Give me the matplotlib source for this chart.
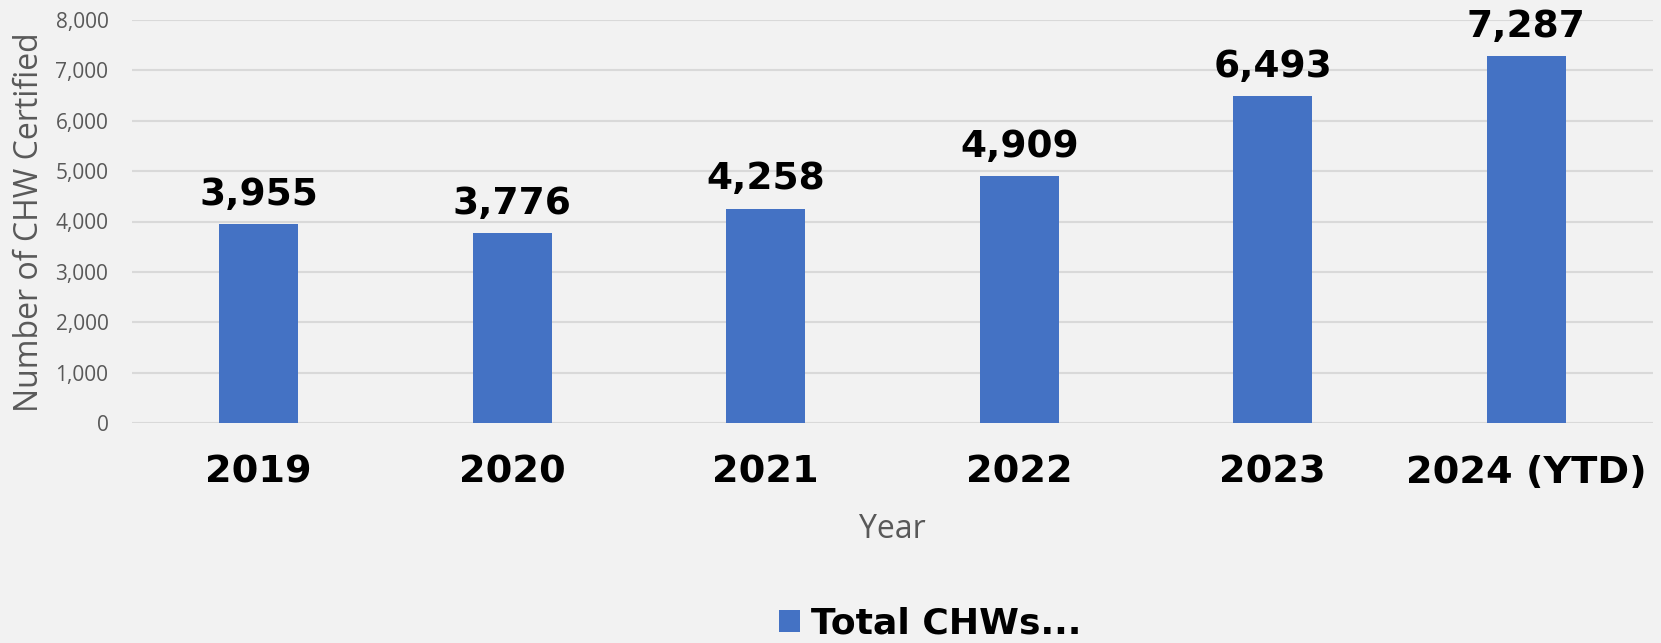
import matplotlib.pyplot as plt
from matplotlib.ticker import FuncFormatter

# chart data
years = ["2019", "2020", "2021", "2022", "2023", "2024 (YTD)"]
chw_certified = [3955, 3776, 4258, 4909, 6493, 7287]
y_ticks = [0, 1000, 2000, 3000, 4000, 5000, 6000, 7000, 8000]

bg = "#F2F2F2"
bar_color = "#4472C4"
gray = "#595959"

fig = plt.figure(figsize=(16.61, 6.43), dpi=100, facecolor=bg)
ax = fig.add_axes([132 / 1661, 1 - 423 / 643, (1653 - 132) / 1661, 403 / 643])
ax.set_facecolor(bg)

x = range(len(years))
bars = ax.bar(x, chw_certified, width=0.31, color=bar_color, zorder=3,
              label="Total CHWs...")

# value labels above each bar
for xi, v in zip(x, chw_certified):
    ax.annotate(f"{v:,}", (xi, v), xytext=(0, 13.7), textcoords="offset points",
                ha="center", va="baseline", fontsize=27, fontweight="bold",
                family="DejaVu Sans", color="black")

ax.set_xlim(-0.5, len(years) - 0.5)
ax.set_ylim(0, 8000)
ax.set_yticks(y_ticks)
ax.yaxis.set_major_formatter(FuncFormatter(lambda v, p: f"{int(v):,}"))
ax.set_xticks(list(x))
ax.set_xticklabels(years, fontsize=27.5, fontweight="bold", family="DejaVu Sans")
ax.tick_params(axis="x", length=0, pad=23)
ax.tick_params(axis="y", length=0, pad=17, labelsize=15, labelcolor=gray)
for lab in ax.get_yticklabels():
    lab.set_family("Open Sans")

ax.grid(axis="y", color="#D9D9D9", linewidth=1.5, zorder=0)
for s in ax.spines.values():
    s.set_visible(False)

ax.set_xlabel("Year", fontsize=23, color=gray, family="Open Sans", labelpad=16)
fig.text(38 / 1661, 1 - 222 / 643, "Number of CHW Certified", rotation=90,
         rotation_mode="anchor", ha="center", va="baseline", fontsize=23,
         color=gray, family="Open Sans")

fig.legend(handles=[bars], labels=["Total CHWs..."], loc="center",
           bbox_to_anchor=(0.56, 0.03), frameon=False,
           prop={"family": "DejaVu Sans", "weight": "bold", "size": 26},
           handlelength=0.6, handleheight=0.6, handletextpad=0.3)

fig.savefig("out.png", dpi=100, facecolor=bg)
